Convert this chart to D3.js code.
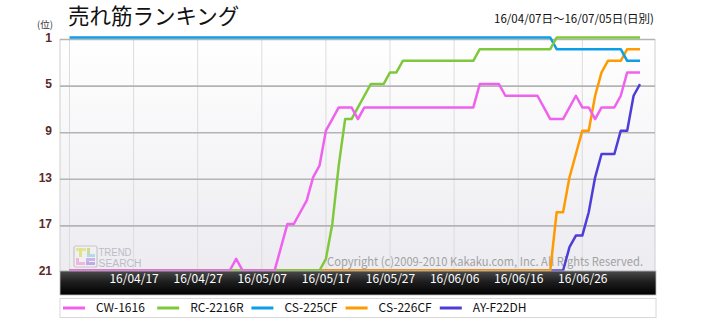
<!DOCTYPE html>
<html><head><meta charset="utf-8">
<script src="https://cdn.jsdelivr.net/npm/d3@7"></script>
<style>
html,body{margin:0;padding:0;background:#fff;}
svg{display:block;}
</style></head><body>
<svg id="chart" width="715" height="318"></svg>
<script>
// ---- data ----
const seriesNames = ["CW-1616", "RC-2216R", "CS-225CF", "CS-226CF", "AY-F22DH"];
const seriesColors = ["#ee62ee", "#7fc83c", "#0e9de6", "#ff9a00", "#4e3ed8"];
const startDate = "2016-04-07";
const endDate = "2016-07-05";
const tickDates = ["2016-04-17", "2016-04-27", "2016-05-07", "2016-05-17", "2016-05-27", "2016-06-06", "2016-06-16", "2016-06-26"];
const tickLabels = ["16/04/17", "16/04/27", "16/05/07", "16/05/17", "16/05/27", "16/06/06", "16/06/16", "16/06/26"];
const rankTicks = [1, 5, 9, 13, 17, 21];

// daily rank, 16/04/07 .. 16/07/05 (21 = out of ranking)
const cw1616 = [21,21,21,21,21,21,21,21,21,21, 21,21,21,21,21,21,21,21,21,21,
                21,21,21,21,21,21,20,21,21,21, 21,21,21,19,17,17,16,15,13,12,
                9,8,7,7,7,8,7,7,7,7, 7,7,7,7,7,7,7,7,7,7,
                7,7,7,7,5,5,5,5,6,6, 6,6,6,6,7,8,8,8,7,6,
                7,7,8,7,7,7,6,4,4,4];
const rc2216r = [21,21,21,21,21,21,21,21,21,21, 21,21,21,21,21,21,21,21,21,21,
                 21,21,21,21,21,21,21,21,21,21, 21,21,21,21,21,21,21,21,21,21,
                 20,17,12,8,8,7,6,5,5,5, 4,4,3,3,3,3,3,3,3,3,
                 3,3,3,3,2,2,2,2,2,2, 2,2,2,2,2,2,1,1,1,1,
                 1,1,1,1,1,1,1,1,1,1];
const cs225cf = [1,1,1,1,1,1,1,1,1,1, 1,1,1,1,1,1,1,1,1,1,
                 1,1,1,1,1,1,1,1,1,1, 1,1,1,1,1,1,1,1,1,1,
                 1,1,1,1,1,1,1,1,1,1, 1,1,1,1,1,1,1,1,1,1,
                 1,1,1,1,1,1,1,1,1,1, 1,1,1,1,1,1,2,2,2,2,
                 2,2,2,2,2,2,2,3,3,3];
const cs226cf = [21,21,21,21,21,21,21,21,21,21, 21,21,21,21,21,21,21,21,21,21,
                 21,21,21,21,21,21,21,21,21,21, 21,21,21,21,21,21,21,21,21,21,
                 21,21,21,21,21,21,21,21,21,21, 21,21,21,21,21,21,21,21,21,21,
                 21,21,21,21,21,21,21,21,21,21, 21,21,21,21,21,21,16,16,13,11,
                 9,9,6,4,3,3,3,2,2,2];
const ayf22dh = [21,21,21,21,21,21,21,21,21,21, 21,21,21,21,21,21,21,21,21,21,
                 21,21,21,21,21,21,21,21,21,21, 21,21,21,21,21,21,21,21,21,21,
                 21,21,21,21,21,21,21,21,21,21, 21,21,21,21,21,21,21,21,21,21,
                 21,21,21,21,21,21,21,21,21,21, 21,21,21,21,21,21,21,21,19,18,
                 18,16,13,11,11,11,9,9,6,5];
const seriesValues = [cw1616, rc2216r, cs225cf, cs226cf, ayf22dh];

// ---- layout ----
const box = {left: 60, right: 655, top: 39.5, bottom: 271};
const band = {top: 271, bottom: 295};
const jp = "'Noto Sans CJK JP', 'Noto Sans', sans-serif";
const latin = "'Liberation Sans', Arial, sans-serif";

const svg = d3.select("#chart");
const parse = d3.timeParse("%Y-%m-%d");
const t0 = parse(startDate), t1 = parse(endDate);

const x = d3.scaleTime().domain([t0, t1]).range([69.5, 640]);
const y = d3.scaleLinear().domain([1, 21]).range([39.5, 272.5]);
const lineLift = -2;

const defs = svg.append("defs");
const bg = defs.append("linearGradient").attr("id", "plotBg").attr("x1", 0).attr("y1", 0).attr("x2", 0).attr("y2", 1);
bg.append("stop").attr("offset", "0%").attr("stop-color", "#ffffff");
bg.append("stop").attr("offset", "100%").attr("stop-color", "#ececf1");
const bandGrad = defs.append("linearGradient").attr("id", "bandBg").attr("x1", 0).attr("y1", 0).attr("x2", 0).attr("y2", 1);
bandGrad.append("stop").attr("offset", "0%").attr("stop-color", "#4a4a4a");
bandGrad.append("stop").attr("offset", "45%").attr("stop-color", "#1e1e1e");
bandGrad.append("stop").attr("offset", "100%").attr("stop-color", "#000000");

// title & headings
svg.append("text").attr("x", 68).attr("y", 24)
  .attr("font-family", jp).attr("font-size", 21.5).attr("fill", "#111")
  .text("売れ筋ランキング");
svg.append("text").attr("x", 37).attr("y", 27.5)
  .attr("font-family", jp).attr("font-size", 9.5).attr("fill", "#333")
  .text("(位)");
svg.append("text").attr("x", 654).attr("y", 23).attr("text-anchor", "end")
  .attr("font-family", jp).attr("font-size", 11.5).attr("fill", "#111")
  .text("16/04/07日～16/07/05日(日別)");

// plot background
svg.append("rect").attr("x", box.left).attr("y", box.top)
  .attr("width", box.right - box.left).attr("height", box.bottom - box.top)
  .attr("fill", "url(#plotBg)").attr("stroke", "#cfcfcf").attr("stroke-width", 1);

// vertical grid
const vDates = [t0].concat(tickDates.map(parse));
svg.append("g").selectAll("line").data(vDates).join("line")
  .attr("x1", d => x(d)).attr("x2", d => x(d))
  .attr("y1", box.top).attr("y2", box.bottom)
  .attr("stroke", "#dcdcdc").attr("stroke-width", 1);

// horizontal grid
svg.append("g").selectAll("line").data(rankTicks.filter(r => r < 21)).join("line")
  .attr("x1", box.left).attr("x2", box.right)
  .attr("y1", d => y(d)).attr("y2", d => y(d))
  .attr("stroke", "#b4b4b4").attr("stroke-width", 1.6);

// watermark logo
const logo = svg.append("g").attr("transform", "translate(74,246)").attr("opacity", 0.7);
logo.append("rect").attr("width", 23).attr("height", 21).attr("rx", 2)
  .attr("fill", "#f2f2f2").attr("stroke", "#b8b8b8").attr("stroke-width", 1.2);
logo.append("rect").attr("x", 2).attr("y", 2).attr("width", 10).attr("height", 3).attr("fill", "#e6e070");
logo.append("rect").attr("x", 5).attr("y", 2).attr("width", 3).attr("height", 9).attr("fill", "#d8e060");
logo.append("rect").attr("x", 13).attr("y", 2).attr("width", 3).attr("height", 9).attr("fill", "#b8d870");
logo.append("rect").attr("x", 13).attr("y", 8).attr("width", 8).attr("height", 3).attr("fill", "#9fd0e8");
logo.append("rect").attr("x", 2).attr("y", 12).attr("width", 3).attr("height", 7).attr("fill", "#f0a0d8");
logo.append("rect").attr("x", 2).attr("y", 16).attr("width", 9).attr("height", 3).attr("fill", "#f0a0d8");
logo.append("rect").attr("x", 12).attr("y", 12).attr("width", 9).attr("height", 3).attr("fill", "#b8a0e8");
logo.append("rect").attr("x", 12).attr("y", 12).attr("width", 3).attr("height", 5).attr("fill", "#b8a0e8");
logo.append("rect").attr("x", 12).attr("y", 16).attr("width", 9).attr("height", 3).attr("fill", "#a890e0");
logo.append("text").attr("x", 24.5).attr("y", 9.5).attr("font-family", latin)
  .attr("font-size", 10).attr("fill", "#a8a8b4").attr("textLength", 33)
  .attr("lengthAdjust", "spacingAndGlyphs").text("TREND");
logo.append("text").attr("x", 24.5).attr("y", 21).attr("font-family", latin)
  .attr("font-size", 10).attr("fill", "#a8a8b4").attr("textLength", 43)
  .attr("lengthAdjust", "spacingAndGlyphs").text("SEARCH");

// copyright
svg.append("text").attr("x", 327).attr("y", 266)
  .attr("font-family", jp).attr("font-size", 12).attr("fill", "#a2a2a2")
  .attr("textLength", 316).attr("lengthAdjust", "spacingAndGlyphs")
  .text("Copyright (c)2009-2010 Kakaku.com, Inc. All Rights Reserved.");

// series lines (first series drawn on top)
const line = d3.line()
  .x((v, i) => x(d3.timeDay.offset(t0, i)))
  .y(v => y(v));
const lines = svg.append("g").attr("transform", `translate(0,${lineLift})`);
lines.selectAll("path").data(d3.range(seriesNames.length).reverse()).join("path")
  .attr("d", k => line(seriesValues[k]))
  .attr("fill", "none").attr("stroke", k => seriesColors[k])
  .attr("stroke-width", 2.5).attr("stroke-linejoin", "round");

// x-axis band
svg.append("rect").attr("x", box.left).attr("y", band.top)
  .attr("width", box.right - box.left + 1).attr("height", band.bottom - band.top)
  .attr("fill", "url(#bandBg)").attr("stroke", "#bdbdbd").attr("stroke-width", 0.8);

const xAxis = d3.axisBottom(x).tickValues(tickDates.map(parse))
  .tickFormat((d, i) => tickLabels[i]).tickSize(0).tickPadding(0);
const gx = svg.append("g").attr("transform", `translate(0,${band.top})`).call(xAxis);
gx.select(".domain").remove();
gx.selectAll("text").attr("fill", "#fff").attr("font-family", jp).attr("font-size", 12)
  .attr("dy", "0").attr("y", 12);

// y-axis labels
const yAxis = d3.axisLeft(y).tickValues(rankTicks).tickSize(0).tickPadding(0);
const gy = svg.append("g").attr("transform", `translate(52,${lineLift})`).call(yAxis);
gy.select(".domain").remove();
gy.selectAll("text").attr("fill", "#5a2a2a").attr("font-family", latin).attr("font-size", 12)
  .attr("font-weight", "bold");

// legend
svg.append("rect").attr("x", box.left).attr("y", 298.5).attr("width", box.right - box.left + 1).attr("height", 19)
  .attr("fill", "#fff").attr("stroke", "#d8d8d8").attr("stroke-width", 1);
const leg = svg.append("g").selectAll("g").data(seriesNames).join("g")
  .attr("transform", (d, i) => `translate(${63 + i * 94.2},308)`);
leg.append("line").attr("x1", 0).attr("x2", 22).attr("y1", 0).attr("y2", 0)
  .attr("stroke", (d, i) => seriesColors[i]).attr("stroke-width", 3);
leg.append("text").attr("x", 33).attr("y", 0).attr("dy", "0.36em")
  .attr("font-family", jp).attr("font-size", 12).attr("fill", "#111").text(d => d);
</script>
</body></html>
